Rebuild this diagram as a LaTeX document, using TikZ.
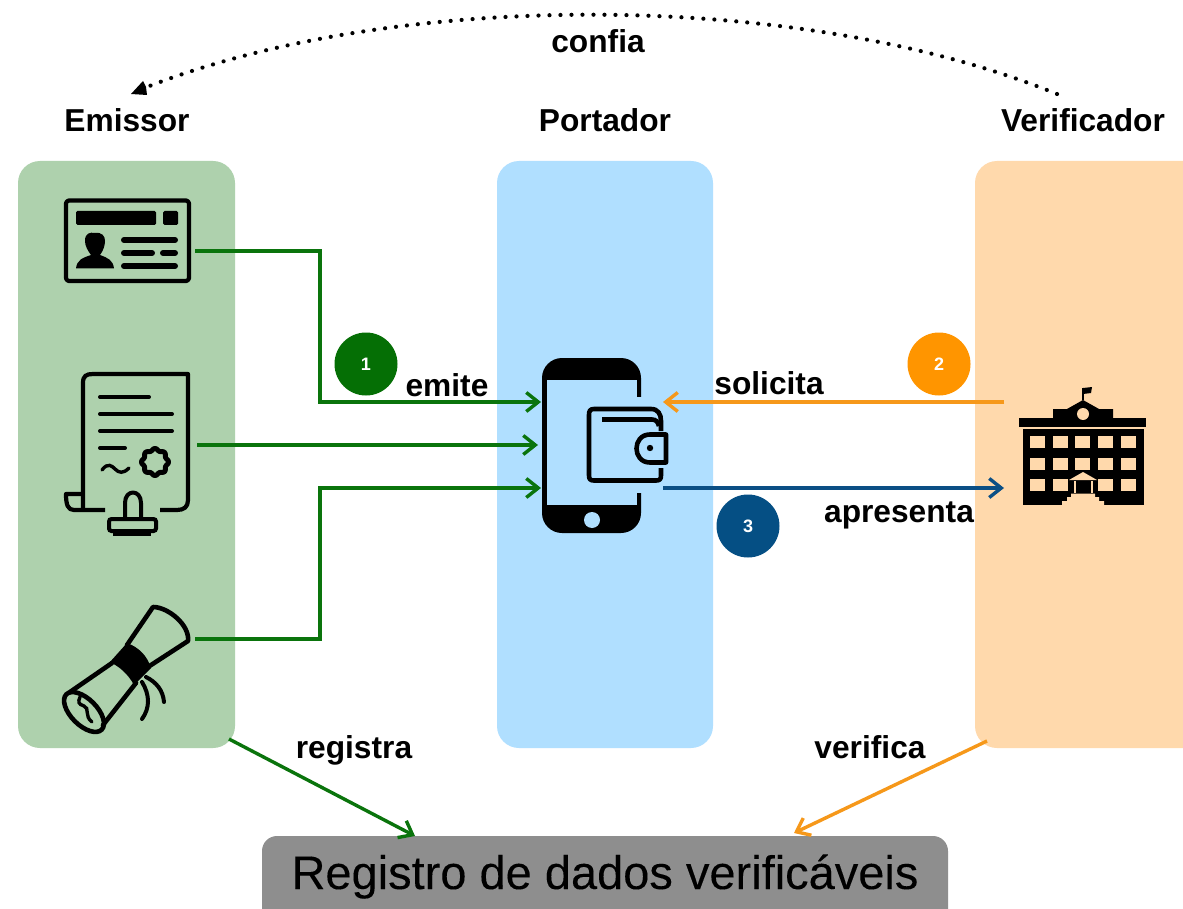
\documentclass[tikz,border=0pt]{standalone}
\usepackage{fontspec}
\setmainfont{Liberation Sans}
\newfontfamily\boxfont[FakeBold=0.12]{Liberation Sans}
\usetikzlibrary{arrows.meta,calc}
\definecolor{pgreen}{HTML}{AED1AD}
\definecolor{pblue}{HTML}{B0DFFF}
\definecolor{porange}{HTML}{FFD9AC}
\definecolor{lgreen}{HTML}{0A740C}
\definecolor{lorange}{HTML}{F6981A}
\definecolor{lblue}{HTML}{0B4F85}
\definecolor{cgreen}{HTML}{056F05}
\definecolor{corange}{HTML}{FF9500}
\definecolor{cblue}{HTML}{054F84}
\definecolor{boxgray}{HTML}{8E8E8E}
\tikzset{
  x=1pt,y=-1pt,
  panel/.style={rounded corners=22pt,draw=none,inner sep=0pt},
  lbl/.style={font=\fontsize{31.7}{38}\selectfont\bfseries,anchor=base,inner sep=0pt},
  badge/.style={circle,minimum size=63pt,inner sep=0pt,text=white,font=\fontsize{18}{20}\selectfont\bfseries},
  conn/.style={line width=3.4pt,-{Straight Barb[length=12pt,width=19pt,line width=3.4pt]}},
  glink/.style={conn,color=lgreen},
  ink/.style={draw=black,line width=4.6pt,line cap=round,line join=round},
  thin ink/.style={draw=black,line width=4.2pt,line cap=round,line join=round},
}
\begin{document}
\begin{tikzpicture}
\clip (0,0) rectangle (1183,909);
\fill[white] (0,0) rectangle (1183,909);
% panels
\fill[panel,pgreen] (18,161) rectangle (235,748);
\fill[panel,pblue] (497,161) rectangle (713,748);
\fill[panel,porange] (975,161) rectangle (1240,748);
\fill[boxgray,rounded corners=15pt] (262,836) rectangle (948,940);
\node[font=\boxfont\fontsize{47}{56}\selectfont,anchor=base,inner sep=0pt] (registro) at (605,889) {Registro de dados verificáveis};
% headings
\node[lbl] (emissor) at (127,132) {Emissor};
\node[lbl] (portador) at (605,132) {Portador};
\node[lbl] (verificador) at (1083,132) {Verificador};
\node[lbl] (confia) at (598,53) {confia};
\node[lbl] (emite) at (447,396) {emite};
\node[lbl] (solicita) at (769,394) {solicita};
\node[lbl] (apresenta) at (899,522) {apresenta};
\node[lbl] (registra) at (354,758) {registra};
\node[lbl] (verifica) at (870,758) {verifica};
% ID card
\draw[thin ink,rounded corners=3pt] (66,200.5) rectangle (189,281);
\fill[black,rounded corners=1.5pt] (76,211) rectangle (156,225);
\fill[black,rounded corners=1.5pt] (163,211) rectangle (178,225);
\fill[black] (76,268.5) .. controls (77,260) and (82,258) .. (91,255)
  .. controls (88,251) and (85,246) .. (85,241) .. controls (85,233) and (90,232) .. (95,233) .. controls (102,232) and (105,236) .. (105,241)
  .. controls (105,246) and (103,251) .. (100,255) .. controls (108,258) and (113,260) .. (114,268.5) -- cycle;
\draw[black,line width=6pt,line cap=round] (124,240) -- (175,240) (124,253) -- (152,253) (163,253) -- (175,253) (124,266) -- (175,266);
% certificate
\draw[thin ink,line cap=butt] (105,510) -- (74,510) .. controls (68,510) and (66,505) .. (66,494) -- (83,494);
\draw[thin ink,line cap=butt] (83,510) -- (83,383) .. controls (83,376) and (86,374) .. (93,374) -- (188,374) -- (188,500) .. controls (188,507) and (184,510) .. (177,510) -- (160,510);
\draw[black,line width=4pt,line cap=round] (100,397) -- (149,397) (100,414) -- (172,414) (100,431) -- (172,431) (100,448) -- (125,448);
\draw[black,line width=3.4pt,line cap=round] (102,470) .. controls (108,462) and (112,466) .. (115,469) .. controls (119,473) and (123,474) .. (129,468);
\draw[black,line width=5pt,line join=round] plot[domain=0:356,samples=90,smooth] ({155+(12.5+1*cos(8*\x))*cos(\x)},{462+(12.5+1*cos(8*\x))*sin(\x)}) -- cycle;
\draw[black,line width=4pt,line join=round] (125,519) -- (125,503) .. controls (125,489) and (141,489) .. (141,503) -- (141,519);
\draw[black,line width=4pt,rounded corners=2.5pt] (109,519) rectangle (156,531);
\fill[black] (113,531) rectangle (151,536);
% diploma
\draw[ink] (127,645) -- (153,607) .. controls (168,607) and (190,625) .. (188,641) -- (148,667);
\draw[ink] (112,663) -- (70,692);
\draw[ink] (136,683) -- (103,725);
\draw[ink,rotate around={-45:(84,712)}] (84,712) ellipse [x radius=25pt,y radius=13pt];
\draw[black,line width=3.4pt,line cap=round] (80,697) .. controls (78,702) and (78,704) .. (84,706) .. controls (90,708) and (84,716) .. (92,722);
\fill[black] (110,662) -- (127,643) .. controls (138,647) and (147,655) .. (151,668) -- (134,685) .. controls (128,674) and (120,667) .. (110,662) -- cycle;
\draw[black,line width=4pt,line cap=round] (146,677) .. controls (156,682) and (163,690) .. (164,702);
\draw[black,line width=4pt,line cap=round] (142,682) .. controls (150,695) and (150,708) .. (142,719);
% phone
\fill[black,rounded corners=20pt] (542,358) rectangle (641,533);
\fill[pblue] (547,380) rectangle (636.5,505);
\fill[pblue] (630,397) rectangle (645,493);
\fill[pblue] (592,520) circle (8);
\draw[black,line width=4.6pt,line join=round,line cap=butt] (661,431) -- (661,421) .. controls (661,414) and (658,409) .. (651,409) -- (594,409) .. controls (590,409) and (589,411) .. (589,415) -- (589,475) .. controls (589,479) and (590,480.5) .. (594,480.5) -- (656,480.5) .. controls (660,480.5) and (661,479) .. (661,475) -- (661,468);
\draw[black,line width=4.6pt,line cap=butt] (602,419.5) -- (652,419.5) .. controls (656,419.5) and (658,422) .. (659,426);
\draw[black,line width=4.6pt,line join=round] (666,434.5) -- (650,434.5) .. controls (632,434.5) and (632,462.5) .. (650,462.5) -- (666,462.5) -- cycle;
\fill[black] (650,448) circle (3.2);
% building
\fill[black] (1019,418) rectangle (1146,427);
\fill[black] (1023,429) rectangle (1144,505);
\fill[black] (1053,418) -- (1053,409) -- (1067,409) -- (1083,400) -- (1099,409) -- (1113,409) -- (1113,418) -- cycle;
\draw[black,line width=2.4pt] (1083,400) -- (1083,388);
\fill[black] (1083,388) -- (1092,387) -- (1091,393) -- (1083,394) -- cycle;
\fill[porange] (1083,414) circle (6);
\foreach \wx in {1030,1053,1075,1098,1121}{\foreach \wy in {436,458}{\fill[porange] (\wx,\wy) rectangle ++(15,12);}}
\fill[porange] (1030,479) rectangle ++(15,12);
\fill[porange] (1053,479) rectangle ++(15,12);
\fill[porange] (1098,479) rectangle ++(15,12);
\fill[porange] (1121,479) rectangle ++(15,12);
\fill[black] (1068,478) rectangle (1098,493);
\fill[porange] (1069,480) -- (1083,472) -- (1097,480) -- cycle;
\fill[porange] (1073.5,481) rectangle (1075.5,493);
\fill[porange] (1090.5,481) rectangle (1092.5,493);
\fill[porange] (1071,493.5) -- (1095,493.5) -- (1095,497) -- (1099,497) -- (1099,501) -- (1104,501) -- (1104,505.5) -- (1062,505.5) -- (1062,501) -- (1067,501) -- (1067,497) -- (1071,497) -- cycle;
% connector anchors
\coordinate (cardout) at (195,251);
\coordinate (certout) at (197,445);
\coordinate (diplout) at (195,639);
\coordinate (phonea) at (541,402);
\coordinate (phoneb) at (538,445);
\coordinate (phonec) at (541,488);
\coordinate (phoneo) at (663,402);
\coordinate (phoneu) at (663,488);
\coordinate (buildo) at (1004,402);
\coordinate (buildu) at (1004,488);
\coordinate (emi) at (229,739);
\coordinate (ver) at (987,741);
\coordinate (reg) at (415,836);
\coordinate (regv) at (794,833);
\coordinate (trusta) at (1057,94);
\coordinate (trustb) at (132,93);
\draw[glink] (cardout) -- ++(125,0) |- (phonea);
\draw[glink] (certout) -- (phoneb);
\draw[glink] (diplout) -- ++(125,0) |- (phonec);
\draw[conn,color=lorange] (buildo) -- (phoneo);
\draw[conn,color=lblue] (phoneu) -- (buildu);
\draw[glink] (emi) -- (reg);
\draw[conn,color=lorange] (ver) -- (regv);
\draw[line width=4.2pt,line cap=round,dash pattern=on 0pt off 11pt,shorten >=9pt] (trusta) .. controls (800,-11) and (390,-11) .. (trustb);
\fill[black] (131,94) -- (143,81) -- (146,87) -- (147,95) -- cycle;
% badges
\node[badge,fill=cgreen] (b1) at (366,364) {1};
\node[badge,fill=corange] (b2) at (939,364) {2};
\node[badge,fill=cblue] (b3) at (748,526) {3};
\end{tikzpicture}
\end{document}
